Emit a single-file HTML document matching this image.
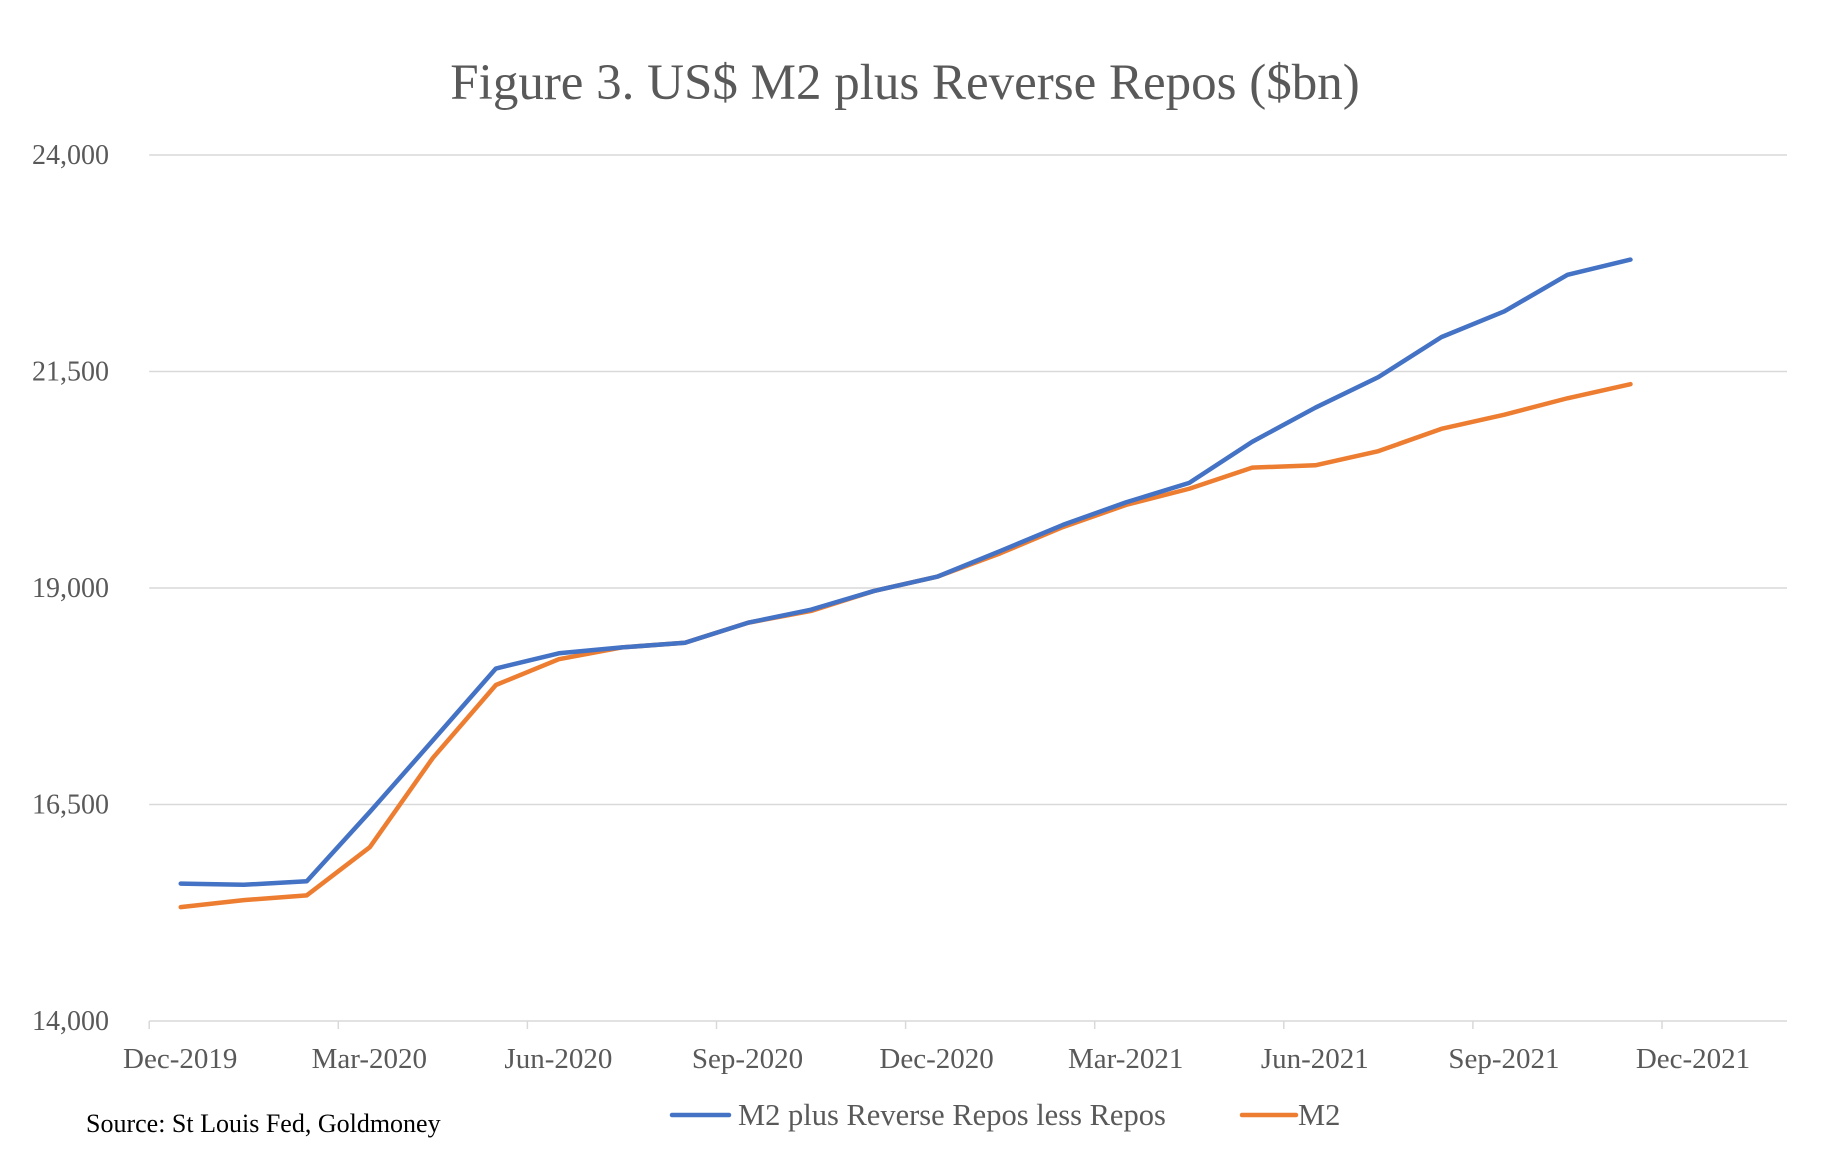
<!DOCTYPE html>
<html><head><meta charset="utf-8"><style>
html,body{margin:0;padding:0;background:#fff;}
svg{display:block;font-family:"Liberation Serif",serif;}
</style></head><body>
<svg id="chart" width="1840" height="1154" viewBox="0 0 1840 1154">
<text x="905" y="99" text-anchor="middle" font-size="51" fill="#595959">Figure 3. US$ M2 plus Reverse Repos ($bn)</text>
<g id="grid"></g><g id="yticks"></g><g id="xticks"></g><g id="series"></g>
<g>
<line x1="672" y1="1115" x2="729" y2="1115" stroke="#4472C4" stroke-width="4.5" stroke-linecap="round"/>
<text x="738" y="1125" font-size="30.5" fill="#595959">M2 plus Reverse Repos less Repos</text>
<line x1="1242" y1="1115" x2="1296" y2="1115" stroke="#ED7D31" stroke-width="4.5" stroke-linecap="round"/>
<text x="1298" y="1125" font-size="30.5" fill="#595959">M2</text>
</g>
<text x="86" y="1132" font-size="26" fill="#000">Source: St Louis Fed, Goldmoney</text>
</svg>
<script>
const yTicks=[14000,16500,19000,21500,24000];
const yTickLabels=["14,000","16,500","19,000","21,500","24,000"];
const xTickLabels=["Dec-2019","Mar-2020","Jun-2020","Sep-2020","Dec-2020","Mar-2021","Jun-2021","Sep-2021","Dec-2021"];
const seriesRR=[15587,15573,15614,16414,17240,18070,18246,18314,18368,18599,18750,18966,19130,19427,19730,19990,20214,20689,21082,21435,21897,22195,22616,22792];
const seriesM2=[15315,15396,15451,16007,17038,17880,18178,18314,18368,18599,18735,18966,19130,19400,19705,19960,20146,20390,20417,20580,20838,21001,21191,21354];
const NS="http://www.w3.org/2000/svg";
const L=149.2,R=1787,T=155,B=1021,yMin=14000,yMax=24000;
const qW=189.1, mW=qW/3;
function yS(v){return B-(v-yMin)/(yMax-yMin)*(B-T);}
function xS(i){return L+mW/2+i*mW;}
function mk(t,a){const e=document.createElementNS(NS,t);for(const k in a)e.setAttribute(k,a[k]);return e;}
const grid=document.getElementById('grid'),yt=document.getElementById('yticks'),xt=document.getElementById('xticks'),sg=document.getElementById('series');
yTicks.forEach((v,i)=>{
  const ln=mk('line',{x1:L,x2:R,y1:yS(v),y2:yS(v),stroke:'#d9d9d9','stroke-width':1.5});
  
  
  grid.appendChild(ln);
  const tx=mk('text',{x:109,y:yS(v)+9,'text-anchor':'end','font-size':28,fill:'#595959'});
  tx.textContent=yTickLabels[i];
  
  
  yt.appendChild(tx);
});
xTickLabels.forEach((s,i)=>{
  const x=L+i*qW;
  const tk=mk('line',{x1:x,x2:x,y1:B,y2:B+8,stroke:'#d9d9d9','stroke-width':1.5});
  
  
  xt.appendChild(tk);
  const tx=mk('text',{x:x+31,y:1068,'text-anchor':'middle','font-size':29,fill:'#595959'});
  tx.textContent=s;
  
  
  xt.appendChild(tx);
});
function drawLine(arr,color,name){
  const p=mk('polyline',{points:arr.map((v,i)=>xS(i)+','+yS(v)).join(' '),fill:'none',stroke:color,'stroke-width':4.5,'stroke-linejoin':'round','stroke-linecap':'round'});
  
  
  sg.appendChild(p);
}
drawLine(seriesM2,'#ED7D31','line-m2');
drawLine(seriesRR,'#4472C4','line-m2-plus-reverse-repos');
</script>
</body></html>
